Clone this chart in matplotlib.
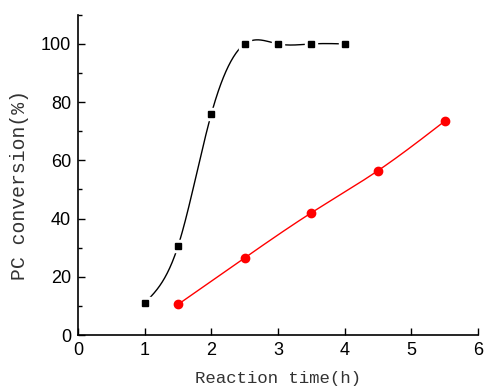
import numpy as np
import matplotlib
matplotlib.use("Agg")
import matplotlib.pyplot as plt
from matplotlib.ticker import MultipleLocator

# Data
time_black = [1.0, 1.5, 2.0, 2.5, 3.0, 3.5, 4.0]
conv_black = [11.0, 30.5, 76.0, 100.0, 100.0, 100.0, 100.0]
time_red = [1.5, 2.5, 3.5, 4.5, 5.5]
conv_red = [10.5, 26.5, 42.0, 56.5, 73.5]

x_ticks = [0, 1, 2, 3, 4, 5, 6]
y_ticks = [0, 20, 40, 60, 80, 100]
x_label = "Reaction time(h)"
y_label = "PC conversion(%)"


def natural_spline(x, y, n=400):
    x = np.asarray(x, float)
    y = np.asarray(y, float)
    m = len(x)
    h = np.diff(x)
    A = np.zeros((m, m))
    b = np.zeros(m)
    A[0, 0] = 1
    A[-1, -1] = 1
    for i in range(1, m - 1):
        A[i, i - 1] = h[i - 1]
        A[i, i] = 2 * (h[i - 1] + h[i])
        A[i, i + 1] = h[i]
        b[i] = 3 * ((y[i + 1] - y[i]) / h[i] - (y[i] - y[i - 1]) / h[i - 1])
    c = np.linalg.solve(A, b)
    xs = np.linspace(x[0], x[-1], n)
    ys = np.empty_like(xs)
    for k, xv in enumerate(xs):
        i = min(np.searchsorted(x, xv, side="right") - 1, m - 2)
        bi = (y[i + 1] - y[i]) / h[i] - h[i] * (2 * c[i] + c[i + 1]) / 3
        di = (c[i + 1] - c[i]) / (3 * h[i])
        dx = xv - x[i]
        ys[k] = y[i] + bi * dx + c[i] * dx ** 2 + di * dx ** 3
    return xs, ys


fig = plt.figure(figsize=(4.84, 3.9), dpi=100)
ax = fig.add_axes([0.161, 0.141, 0.827, 0.821])

xb, yb = natural_spline(time_black, conv_black)
xr, yr = natural_spline(time_red, conv_red)

ax.plot(xb, yb, color="black", lw=1.0, zorder=2)
ax.plot(time_black, conv_black, ls="none", marker="s", ms=8, color="white", zorder=3)
ax.plot(time_black, conv_black, ls="none", marker="s", ms=4.8, color="black", zorder=4)

ax.plot(xr, yr, color="red", lw=1.0, zorder=2)
ax.plot(time_red, conv_red, ls="none", marker="o", ms=6, color="red", zorder=4)

ax.set_xlim(0, 6)
ax.set_ylim(0, 110)
ax.set_xticks(x_ticks)
ax.set_yticks(y_ticks)
ax.yaxis.set_minor_locator(MultipleLocator(10))

for side in ("top", "right"):
    ax.spines[side].set_visible(False)
for side in ("left", "bottom"):
    ax.spines[side].set_linewidth(1.2)

ax.tick_params(axis="both", which="major", direction="in", length=5, width=1,
               labelsize=13, pad=5)
ax.tick_params(axis="both", which="minor", direction="in", length=3, width=1)
for lab in ax.get_xticklabels() + ax.get_yticklabels():
    lab.set_fontfamily("Liberation Sans")

ax.set_xlabel(x_label, family="Liberation Mono", fontsize=12.5, color="#333333", labelpad=9)
ax.set_ylabel(y_label, family="Liberation Mono", fontsize=14.2, color="#333333")
ax.yaxis.set_label_coords(-0.123, 0.47)

fig.savefig("out.png", dpi=100)
